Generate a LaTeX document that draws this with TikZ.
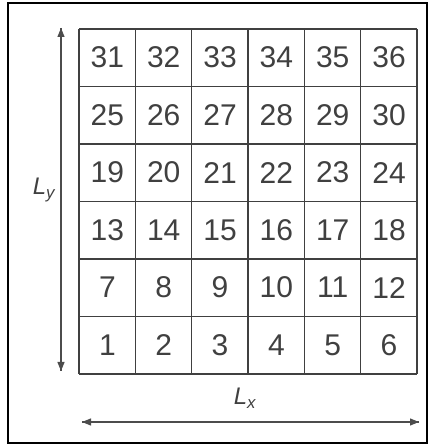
\documentclass[tikz,border=0pt]{standalone}
\usepackage{fontspec}
\setmainfont{Liberation Sans}
\usetikzlibrary{arrows.meta}

\tikzset{
cellbox/.style={minimum width=56.33pt, minimum height=57.5pt, inner sep=0pt,
  anchor=south west, text=black!75, font={\fontsize{30}{30}\selectfont}},
lenarrow/.style={draw=black!70, line width=1.2pt, -{Triangle[length=9pt,width=7pt]}},
lenlabel/.style={text=black!75, font={\fontsize{24}{24}\selectfont\itshape}}
}

\begin{document}
\begin{tikzpicture}[x=1pt,y=1pt]

\useasboundingbox (0,0) rectangle (429,445);

\draw [line width=2.2pt] (8,2) rectangle (427,442);

% the 6x6 cells, 1 in the lower left
\draw [black!75, line width=1.2pt, shift={(79,71)}, xstep=56.33, ystep=57.5]
 (0,0) grid (338.1,345.1);
\foreach \r in {0,...,5}{
\foreach \c [evaluate=\c as \n using {int(6*\r+\c+1)}] in {0,...,5}{
\node [cellbox] (c\n) at (79+\c*56.33, 71+\r*57.5) {\n};
}}

\coordinate (ybot) at (61,74);
\coordinate (ytop) at (61,417);
\coordinate (xleft) at (82,23);
\coordinate (xright) at (419,23);

\draw [lenarrow] (ybot) -- (ytop);
\draw [lenarrow] (ytop) -- (ybot);
\draw [lenarrow] (xleft) -- (xright);
\draw [lenarrow] (xright) -- (xleft);

\node [lenlabel] (ly) at (44,255) {L\textsubscript{y}};
\node [lenlabel] (lx) at (245,47) {L\textsubscript{x}};

\end{tikzpicture}
\end{document}
